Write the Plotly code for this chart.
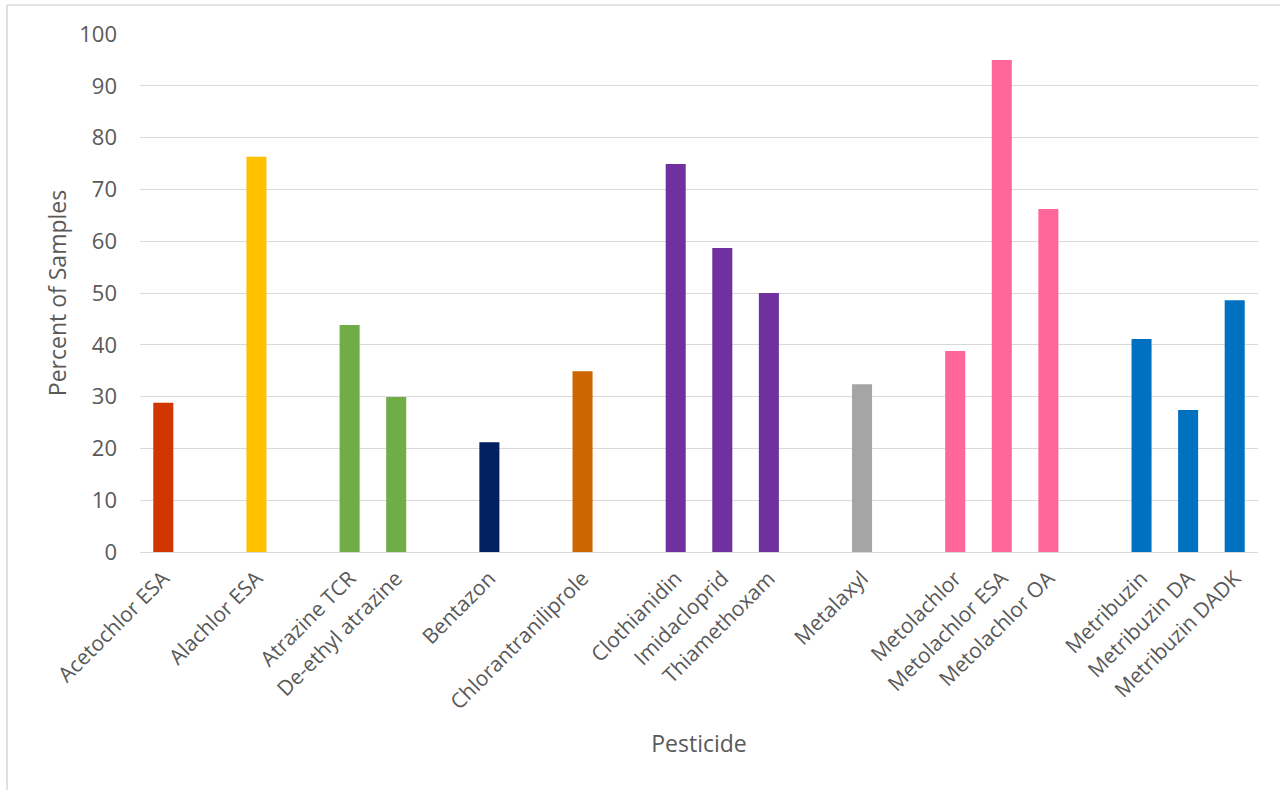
import plotly.graph_objects as go

# Pesticides, grouped by parent compound (groups are separated by an empty slot)
groups = [
    ["Acetochlor ESA"],
    ["Alachlor ESA"],
    ["Atrazine TCR", "De-ethyl atrazine"],
    ["Bentazon"],
    ["Chlorantraniliprole"],
    ["Clothianidin", "Imidacloprid", "Thiamethoxam"],
    ["Metalaxyl"],
    ["Metolachlor", "Metolachlor ESA", "Metolachlor OA"],
    ["Metribuzin", "Metribuzin DA", "Metribuzin DADK"],
]
group_colors = [
    "#CF3600", "#FFC000", "#70AD47", "#002060", "#CC6600",
    "#7030A0", "#A5A5A5", "#FF6699", "#0070C0",
]
percent_detected = [
    28.8, 76.3, 43.8, 29.9, 21.2, 34.9, 74.9, 58.7, 50.0,
    32.4, 38.8, 95.0, 66.2, 41.1, 27.4, 48.6,
]

# lay out bar slots with one blank slot between groups
names, xpos, colors = [], [], []
slot = 0
for g, color in zip(groups, group_colors):
    for name in g:
        names.append(name)
        xpos.append(slot)
        colors.append(color)
        slot += 1
    slot += 1
n_slots = slot - 1

FONT = "Open Sans"
TXT = "#595959"
GRID = "#D9D9D9"

fig = go.Figure(
    go.Bar(
        x=xpos,
        y=percent_detected,
        marker=dict(color=colors, line=dict(width=0)),
        width=0.43,
        hoverinfo="text",
        hovertext=[f"{n}: {v}" for n, v in zip(names, percent_detected)],
    )
)

L, R, T, B = 140, 22, 34, 238
W, H = 1280, 790
pw, ph = W - L - R, H - T - B

# frame edges in paper units
fx = (7 - L) / pw
fy = (H - B - 5) / ph
fbottom = -(B + 10) / ph
fright = (W + 10 - L) / pw

fig.update_layout(
    width=W,
    height=H,
    margin=dict(l=L, r=R, t=T, b=B, pad=0),
    paper_bgcolor="white",
    plot_bgcolor="white",
    font=dict(family=FONT, color=TXT, size=20),
    showlegend=False,
    xaxis=dict(
        range=[-0.5, n_slots - 0.5],
        tickmode="array",
        tickvals=xpos,
        ticktext=names,
        tickangle=-45,
        ticks="",
        showgrid=False,
        zeroline=False,
        showline=False,
        tickfont=dict(family=FONT, size=21, color=TXT),
        ticklabelstandoff=9,
        title=dict(text="Pesticide", font=dict(family=FONT, size=23, color=TXT), standoff=22),
        fixedrange=True,
    ),
    yaxis=dict(
        range=[0, 100],
        dtick=10,
        ticks="",
        showgrid=True,
        gridcolor=GRID,
        gridwidth=1.4,
        zeroline=True,
        zerolinecolor=GRID,
        zerolinewidth=1.4,
        showline=False,
        tickfont=dict(family=FONT, size=22, color=TXT),
        ticklabelstandoff=22,
        title=dict(text="Percent of Samples", font=dict(family=FONT, size=23, color=TXT), standoff=6),
        fixedrange=True,
    ),
    shapes=[
        # chart frame: left edge
        dict(type="line", xref="paper", yref="paper",
             x0=fx, x1=fx, y0=fbottom, y1=fy,
             line=dict(color=GRID, width=1.6), layer="below"),
        # chart frame: top edge
        dict(type="line", xref="paper", yref="paper",
             x0=fx, x1=fright, y0=fy, y1=fy,
             line=dict(color=GRID, width=1.6), layer="below"),
    ],
)

fig.write_html("out.html")
